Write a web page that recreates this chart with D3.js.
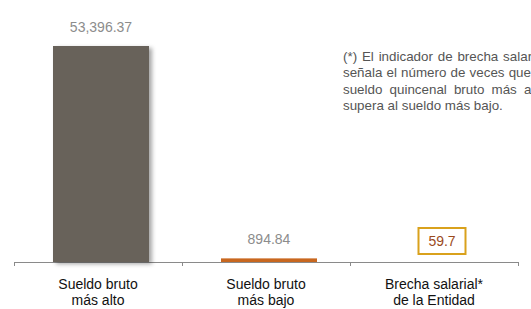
<!DOCTYPE html>
<html>
<head>
<meta charset="utf-8">
<script src="https://cdn.jsdelivr.net/npm/d3@7"></script>
<style>
  body { margin: 0; background: #fff; }
  svg { font-family: "Liberation Sans", Arial, sans-serif; display: block; }
</style>
</head>
<body>
<svg width="531" height="309"></svg>
<script>
// categories and values
var categories = ["alto", "bajo", "brecha"]
var catLines = [["Sueldo bruto", "más alto"], ["Sueldo bruto", "más bajo"], ["Brecha salarial*", "de la Entidad"]]
var sueldos = [53396.37, 894.84]
var sueldoLabels = ["53,396.37", "894.84"]
var brecha = "59.7"
var nota = [
  "(*) El indicador de brecha salarial",
  "señala el número de veces que el",
  "sueldo quincenal bruto más alto",
  "supera al sueldo más bajo."
]

var svg = d3.select("svg")

var x = d3.scaleBand().domain(categories).range([14, 518])
var y = d3.scaleLinear().domain([0, sueldos[0]]).range([262, 46])
var barW = 96

var defs = svg.append("defs")
var f = defs.append("filter").attr("id", "sh").attr("x", "-20%").attr("y", "-5%").attr("width", "150%").attr("height", "115%")
f.append("feDropShadow").attr("dx", 3).attr("dy", 2).attr("stdDeviation", 2)
  .attr("flood-color", "#000").attr("flood-opacity", 0.35)

// axis
var gx = svg.append("g").attr("transform", "translate(0,262)")
  .call(d3.axisBottom(x).tickSize(4).tickFormat(""))
gx.select(".domain").attr("stroke", "#8a8a8a")
gx.selectAll(".tick").remove()
// ticks at band edges
gx.selectAll("line.edge").data(x.domain().map(function(d){ return x(d) }).concat([x.range()[1]]))
  .enter().append("line").attr("class", "edge")
  .attr("x1", function(d){ return d + 0.5 }).attr("x2", function(d){ return d + 0.5 })
  .attr("y1", 0).attr("y2", 4).attr("stroke", "#8a8a8a")

// bars
var colors = ["#67625a", "#c8671f"]
svg.selectAll("rect.bar").data(sueldos).enter().append("rect")
  .attr("class", "bar")
  .attr("x", function(d, i){ return x(categories[i]) + 39 })
  .attr("y", function(d){ return y(d) })
  .attr("width", barW)
  .attr("height", function(d){ return 262 - y(d) })
  .attr("fill", function(d, i){ return colors[i] })
  .attr("filter", function(d, i){ return i == 0 ? "url(#sh)" : null })

// value labels
svg.selectAll("text.val").data(sueldos).enter().append("text")
  .attr("class", "val")
  .attr("x", function(d, i){ return x(categories[i]) + 39 + barW / 2 })
  .attr("y", function(d){ return y(d) - 14 })
  .attr("text-anchor", "middle")
  .attr("font-size", 14)
  .attr("fill", "#8c8c8c")
  .text(function(d, i){ return sueldoLabels[i] })

// brecha box
var bx = x("brecha") + x.bandwidth() / 2 + 8
svg.append("rect").attr("x", bx - 23.5).attr("y", 228).attr("width", 47).attr("height", 26)
  .attr("fill", "#fff").attr("stroke", "#d9a11c").attr("stroke-width", 2)
svg.append("text").attr("x", bx).attr("y", 246).attr("text-anchor", "middle")
  .attr("font-size", 14).attr("fill", "#9a4a1c").text(brecha)

// category labels
svg.selectAll("text.cat").data(categories).enter().append("text")
  .attr("class", "cat")
  .attr("text-anchor", "middle")
  .attr("font-size", 14)
  .attr("fill", "#111")
  .each(function(d, i){
    var t = d3.select(this)
    catLines[i].forEach(function(l, j){
      t.append("tspan").attr("x", x(d) + x.bandwidth() / 2).attr("y", 289 + j * 16).text(l)
    })
  })

// note: a bit stretched horizontally, lines 1-3 justified by word spacing
var note = svg.append("g").attr("font-size", 12.5).attr("fill", "#555")
var lines = note.selectAll("text").data(nota).enter().append("text")
  .attr("x", 0).attr("y", function(d, i){ return 61 + i * 16.5 })
  .text(function(d){ return d })
var sx = 160 / lines.nodes()[3].getComputedTextLength()
note.attr("transform", "translate(343,0) scale(" + sx + ",1)")
var full = lines.nodes()[0].getComputedTextLength() + 5.5 / sx
lines.each(function(d, i){
  if(i == nota.length - 1) return
  var w = this.getComputedTextLength()
  var gaps = d.split(" ").length - 1
  d3.select(this).attr("word-spacing", (full - w) / gaps)
})
</script>
</body>
</html>
